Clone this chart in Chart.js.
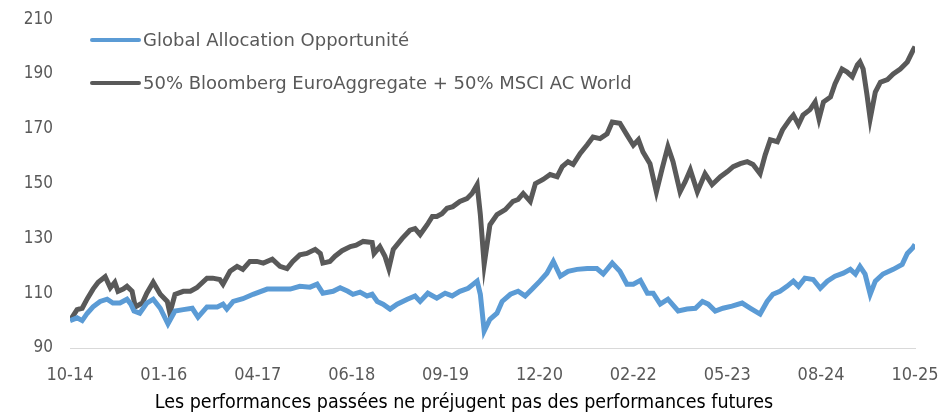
<!DOCTYPE html>
<html>
<head>
<meta charset="utf-8">
<script src="https://cdn.jsdelivr.net/npm/chart.js@4.4.1/dist/chart.umd.min.js"></script>
<style>
    html, body { margin: 0; padding: 0; background: #ffffff; }
    #wrap { width: 951px; height: 414px; }
</style>
</head>
<body>
<div id="wrap"><canvas id="perf-chart" width="951" height="414"></canvas></div>
<script>
// months counted from 10-2014 (0) to 10-2025 (132)
const xTickLabels = ['10-14', '01-16', '04-17', '06-18', '09-19', '12-20', '02-22', '05-23', '08-24', '10-25'];
const xMax = 132;

const seriesNames = ['Global Allocation Opportunité', '50% Bloomberg EuroAggregate + 50% MSCI AC World'];
const footnote = 'Les performances passées ne préjugent pas des performances futures';

const gaoMonths = [0.0, 1.1, 1.9, 2.7, 3.6, 4.7, 5.8, 6.7, 7.8, 8.9, 9.5, 10.0, 10.9, 12.0, 13.0, 14.1, 15.3, 16.4, 17.7, 19.1,
    20.0, 21.4, 23.0, 23.9, 24.5, 25.5, 27.0, 28.6, 30.8, 32.8, 34.4, 35.9, 37.5, 38.6, 39.5, 41.1, 42.2, 43.4, 44.2, 45.3,
    46.4, 47.2, 48.0, 48.9, 50.0, 51.1, 52.7, 53.9, 54.7, 55.9, 57.3, 58.6, 59.7, 60.9, 62.2, 63.0, 63.6, 64.1, 64.7, 65.6,
    66.7, 67.5, 68.8, 70.0, 71.1, 72.2, 73.4, 74.5, 75.5, 76.6, 77.8, 79.2, 80.8, 82.3, 83.3, 84.7, 85.9, 87.0, 88.0, 89.1,
    90.2, 91.1, 92.2, 93.4, 95.0, 96.4, 97.7, 98.8, 99.7, 100.8, 102.0, 103.4, 105.0, 106.3, 107.8, 108.9, 109.8, 110.9, 112.0, 113.0,
    113.8, 114.8, 116.1, 117.2, 118.3, 119.5, 120.8, 121.9, 122.7, 123.4, 124.2, 125.0, 125.8, 127.0, 128.6, 130.0, 130.8, 131.6, 132.0];
const gaoValues = [100, 101, 100, 102.7, 105, 107, 107.8, 106.4, 106.4, 107.8, 106, 103.5, 102.7, 106.4, 107.8, 104.5, 98.8, 103.5, 104, 104.5,
    101.3, 105, 105, 106, 104.2, 107, 108, 109.6, 111.5, 111.5, 111.5, 112.5, 112.2, 113.3, 110, 110.7, 112, 110.7, 109.6, 110.4,
    109, 109.6, 107, 106, 104.2, 106, 107.8, 109, 107, 110, 108.2, 110, 109, 110.7, 111.8, 113.3, 114.4, 109.6, 96.2, 100.5,
    102.7, 107, 109.6, 110.7, 109, 111.5, 114.4, 117.3, 121.6, 116.2, 118, 118.7, 119, 119, 117, 121, 118, 113.3, 113.3, 114.7,
    110, 110, 106, 107.8, 103.5, 104.2, 104.5, 107, 106, 103.5, 104.5, 105.3, 106.4, 104.5, 102.4, 107, 109.6, 110.7, 112.5, 114.4,
    112.5, 115.5, 115, 111.8, 114.4, 116.2, 117.3, 118.7, 117, 119.8, 117, 109.6, 114.4, 117, 118.7, 120.5, 124.5, 126.4, 127.8];

const benchMonths = [0.0, 1.1, 1.9, 2.7, 3.6, 4.4, 5.5, 6.3, 7.0, 7.5, 8.3, 8.9, 9.7, 10.2, 11.3, 12.0, 13.0, 14.1, 15.2, 15.6,
    16.4, 17.7, 18.8, 19.8, 21.4, 22.3, 23.4, 23.9, 25.0, 26.1, 27.0, 28.1, 29.2, 30.2, 31.6, 32.8, 33.9, 34.8, 35.9, 37.0,
    38.3, 39.1, 39.5, 40.6, 41.4, 42.5, 43.8, 44.7, 45.8, 47.2, 47.5, 48.4, 49.2, 49.8, 50.5, 51.9, 53.1, 53.9, 54.7, 55.8,
    56.6, 57.3, 58.1, 58.9, 59.8, 60.9, 62.0, 62.8, 63.6, 64.1, 64.7, 65.6, 66.7, 68.0, 69.2, 70.0, 70.8, 71.9, 72.7, 73.9,
    75.0, 76.1, 76.9, 77.8, 78.6, 79.7, 80.8, 81.7, 82.8, 83.9, 84.7, 85.9, 87.0, 88.0, 88.8, 89.5, 90.6, 91.6, 92.5, 93.4,
    94.2, 95.3, 96.1, 96.9, 98.0, 99.2, 100.3, 101.6, 102.7, 103.6, 104.7, 105.8, 106.7, 107.8, 108.6, 109.4, 110.5, 111.3, 112.5, 113.0,
    113.8, 114.5, 115.6, 116.4, 117.0, 117.7, 118.8, 119.5, 120.6, 121.4, 122.2, 123.0, 123.4, 123.9, 124.5, 125.0, 125.8, 126.6, 127.7, 128.6,
    129.7, 130.8, 131.7, 132.0];
const benchValues = [100, 104, 104.5, 108, 111.5, 114, 116, 112, 114, 110.7, 111.5, 112.5, 110.7, 105, 106.4, 110, 114, 109.6, 107, 102.7,
    109.6, 110.7, 110.7, 112, 115.5, 115.5, 115, 113.3, 118, 119.8, 118.7, 121.6, 121.6, 121, 122.4, 119.8, 119, 121.6, 124, 124.5,
    126, 124.5, 121, 121.6, 123.5, 125.5, 127, 127.5, 128.9, 128.5, 124.5, 127, 123.5, 119, 126, 130, 133, 133.6, 131.4, 135,
    138, 138, 139, 141, 141.6, 143.5, 144.5, 146.4, 149.6, 138.7, 120.5, 135, 138.7, 140.5, 143.5, 144.2, 146.4, 143.5, 150, 151.5,
    153.3, 152.5, 156.2, 158, 157, 161, 164.2, 167, 166.4, 168.2, 172.5, 172, 167.8, 164, 166, 161.6, 157.3, 147, 155.5, 163.5,
    158, 147, 150.7, 155, 147, 153.6, 149.6, 152.5, 154.4, 156.2, 157.3, 158, 157, 153.6, 160.5, 166, 165.3, 169.6, 173.6, 175,
    171.5, 175, 177, 179.8, 173.6, 179.8, 181.6, 186.4, 191.8, 190.7, 189, 193.3, 194.4, 191.8, 182.4, 173.6, 183.4, 187, 188, 190,
    191.8, 194.4, 198.7, 200];

const toPoints = (xs, ys) => xs.map((x, i) => ({ x: x, y: ys[i] }));

// legend inside the plot (top left) and the disclaimer under the axis
const chartTexts = {
    id: 'chartTexts',
    afterDraw(chart) {
        const ctx = chart.ctx;
        const rows = [40, 83];
        ctx.save();
        ctx.font = '18px "DejaVu Sans"';
        ctx.textBaseline = 'middle';
        chart.data.datasets.forEach((ds, i) => {
            const y = rows[i];
            ctx.strokeStyle = ds.borderColor;
            ctx.lineWidth = 4;
            ctx.lineCap = 'round';
            ctx.beginPath();
            ctx.moveTo(92, y);
            ctx.lineTo(139, y);
            ctx.stroke();
            ctx.fillStyle = '#595959';
            ctx.fillText(ds.label, 143, y + 1);
        });

        ctx.font = '19.5px "DejaVu Sans Condensed"';
        ctx.fillStyle = '#000000';
        ctx.textAlign = 'center';
        ctx.fillText(footnote, 464, 403);
        ctx.restore();
    }
};

new Chart(document.getElementById('perf-chart').getContext('2d'), {
    type: 'line',
    data: {
        datasets: [{
            label: seriesNames[0],
            data: toPoints(gaoMonths, gaoValues),
            borderColor: '#5b9bd5',
            borderWidth: 5,
            pointRadius: 0,
            tension: 0,
            order: 1
        }, {
            label: seriesNames[1],
            data: toPoints(benchMonths, benchValues),
            borderColor: '#595959',
            borderWidth: 5,
            pointRadius: 0,
            tension: 0,
            order: 2
        }]
    },
    options: {
        responsive: false,
        animation: false,
        layout: {
            padding: { top: 4, right: 36, bottom: 0, left: 0 }
        },
        scales: {
            x: {
                type: 'linear',
                min: 0,
                max: xMax,
                grid: { display: false },
                border: { display: true, color: '#d9d9d9', width: 1 },
                afterBuildTicks: (scale) => {
                    scale.ticks = xTickLabels.map((l, i) => ({ value: i * xMax / (xTickLabels.length - 1) }));
                },
                ticks: {
                    autoSkip: false,
                    maxRotation: 0,
                    padding: 9,
                    color: '#595959',
                    font: { family: 'DejaVu Sans Condensed', size: 18 },
                    callback: (value, index) => xTickLabels[index]
                },
                afterFit: (scale) => { scale.height = 66; }
            },
            y: {
                min: 90,
                max: 210,
                grid: { display: false },
                border: { display: false },
                ticks: {
                    stepSize: 20,
                    padding: 9,
                    color: '#595959',
                    font: { family: 'DejaVu Sans Condensed', size: 17 }
                },
                afterFit: (scale) => { scale.width = 70; }
            }
        },
        plugins: {
            legend: { display: false },
            tooltip: { enabled: false }
        }
    },
    plugins: [chartTexts]
});
</script>
</body>
</html>
